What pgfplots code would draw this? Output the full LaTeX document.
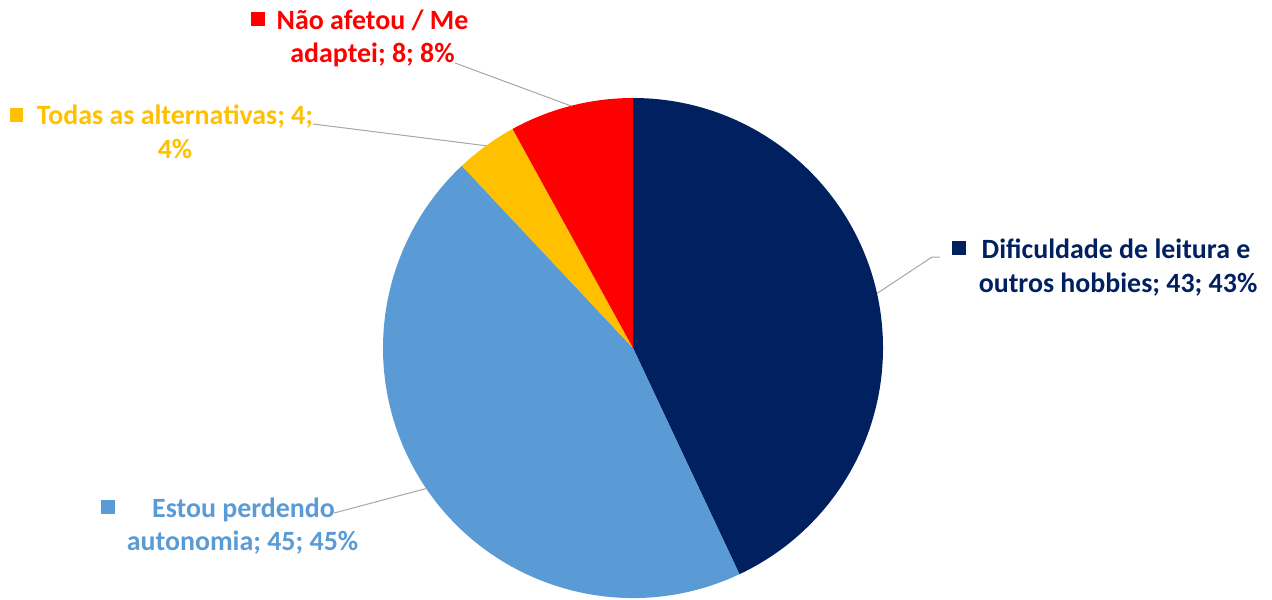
\documentclass[border=0pt]{standalone}
\usepackage{pgfplots}
\usepackage{pgfplotstable}
\pgfplotsset{compat=1.18}
\usepackage{fontspec}
\setmainfont{Carlito}
\definecolor{cNavy}{HTML}{002060}
\definecolor{cBlue}{HTML}{5B9BD5}
\definecolor{cGold}{HTML}{FFC000}
\definecolor{cRed}{HTML}{FF0000}
\definecolor{cLead}{HTML}{A6A6A6}
\tikzset{lab/.style={font=\fontsize{13.95}{16.5}\selectfont\bfseries, anchor=base, inner sep=0pt}}
\pgfplotstableread[col sep=comma]{
label,value
Dificuldade de leitura e outros hobbies,43
Estou perdendo autonomia,45
Todas as alternativas,4
Não afetou / Me adaptei,8
}\piedata
\begin{document}
\begin{tikzpicture}
\pgfplotstablegetelem{0}{value}\of\piedata \pgfmathsetmacro\vA{\pgfplotsretval}
\pgfplotstablegetelem{1}{value}\of\piedata \pgfmathsetmacro\vB{\pgfplotsretval}
\pgfplotstablegetelem{2}{value}\of\piedata \pgfmathsetmacro\vC{\pgfplotsretval}
\pgfplotstablegetelem{3}{value}\of\piedata \pgfmathsetmacro\vD{\pgfplotsretval}
\pgfmathsetmacro\tot{\vA+\vB+\vC+\vD}
\pgfmathsetmacro\aA{90}
\pgfmathsetmacro\aB{\aA-360*\vA/\tot}
\pgfmathsetmacro\aC{\aB-360*\vB/\tot}
\pgfmathsetmacro\aD{\aC-360*\vC/\tot}
\pgfmathsetmacro\aE{\aD-360*\vD/\tot}
\pgfmathsetmacro\mA{(\aA+\aB)/2}
\pgfmathsetmacro\mB{(\aB+\aC)/2}
\pgfmathsetmacro\mC{(\aC+\aD)/2}
\pgfmathsetmacro\mD{(\aD+\aE)/2}
\begin{axis}[name=ax,
  scale only axis, width=636pt, height=299.5pt,
  xmin=0, xmax=1272, ymin=0, ymax=599, y dir=reverse,
  hide axis, clip=false,
]
% slices
\fill[cNavy] (axis cs:633,348) -- ([shift={(\aA:125pt)}]axis cs:633,348) arc[start angle=\aA,end angle=\aB,radius=125pt] -- cycle;
\fill[cBlue] (axis cs:633,348) -- ([shift={(\aB:125pt)}]axis cs:633,348) arc[start angle=\aB,end angle=\aC,radius=125pt] -- cycle;
\fill[cGold] (axis cs:633,348) -- ([shift={(\aC:125pt)}]axis cs:633,348) arc[start angle=\aC,end angle=\aD,radius=125pt] -- cycle;
\fill[cRed] (axis cs:633,348) -- ([shift={(\aD:125pt)}]axis cs:633,348) arc[start angle=\aD,end angle=\aE,radius=125pt] -- cycle;
% leader lines
\draw[cLead, line width=0.5pt] ([shift={(\mA:125pt)}]axis cs:633,348) -- (axis cs:932,257) -- (axis cs:940,257);
\draw[cLead, line width=0.5pt] ([shift={(\mB:125pt)}]axis cs:633,348) -- (axis cs:334,513);
\draw[cLead, line width=0.5pt] ([shift={(\mC:125pt)}]axis cs:633,348) -- (axis cs:313,124);
\draw[cLead, line width=0.5pt] ([shift={(\mD:125pt)}]axis cs:633,348) -- (axis cs:455,63);
% labels
\fill[cNavy] (axis cs:952,241) rectangle (axis cs:966,255);
\node[lab, cNavy] at (axis cs:1116,258) {Dificuldade de leitura e};
\node[lab, cNavy] at (axis cs:1118,292) {outros hobbies; 43; 43\%};
\fill[cBlue] (axis cs:101,500) rectangle (axis cs:115,514);
\node[lab, cBlue] at (axis cs:243.5,517) {Estou perdendo};
\node[lab, cBlue] at (axis cs:242.5,550) {autonomia; 45; 45\%};
\fill[cGold] (axis cs:10,108) rectangle (axis cs:23,122);
\node[lab, cGold] at (axis cs:175,125) {Todas as alternativas; 4;};
\node[lab, cGold] at (axis cs:175,158) {4\%};
\fill[cRed] (axis cs:251,12) rectangle (axis cs:265,26);
\node[lab, cRed] at (axis cs:372.5,30) {Não afetou / Me};
\node[lab, cRed] at (axis cs:372.5,63) {adaptei; 8; 8\%};
\end{axis}
\pgfresetboundingbox
\path (ax.south west) rectangle (ax.north east);
\end{tikzpicture}
\end{document}
